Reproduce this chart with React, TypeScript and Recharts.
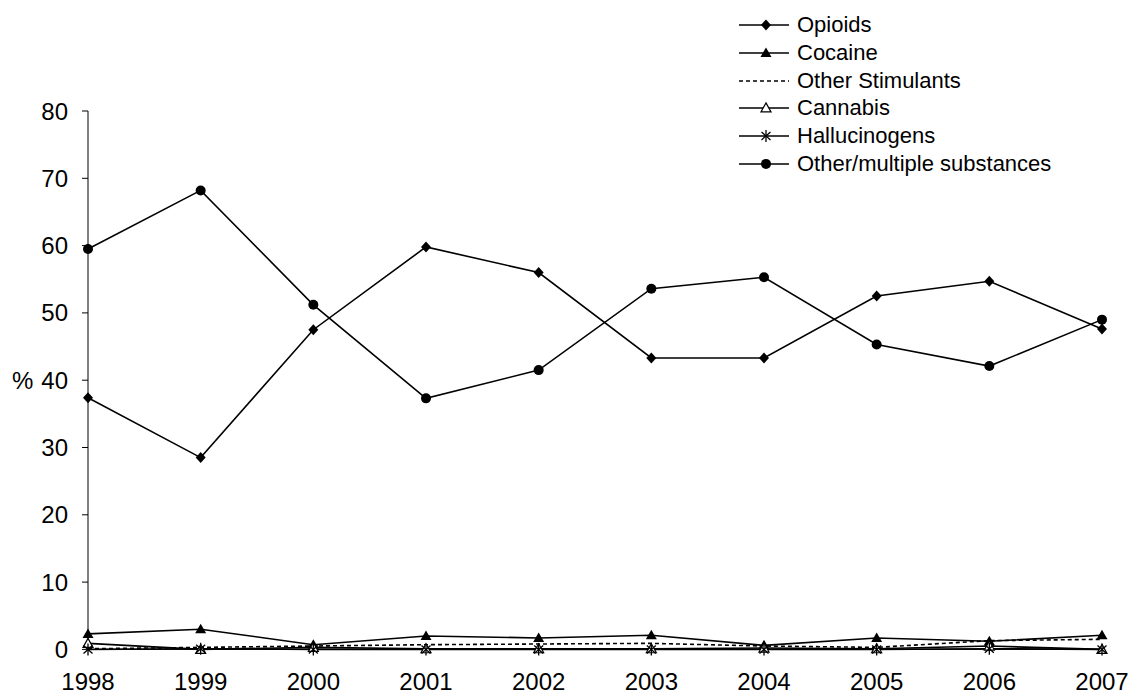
import React from 'react';
import { LineChart, Line, XAxis, YAxis, Legend } from 'recharts';

const years = ['1998', '1999', '2000', '2001', '2002', '2003', '2004', '2005', '2006', '2007'];
const opioids = [37.4, 28.5, 47.5, 59.8, 56.0, 43.3, 43.3, 52.5, 54.7, 47.6];
const cocaine = [2.3, 3.0, 0.7, 2.0, 1.7, 2.1, 0.6, 1.7, 1.2, 2.1];
const otherStimulants = [0.1, 0.3, 0.5, 0.7, 0.8, 0.9, 0.5, 0.3, 1.3, 1.5];
const cannabis = [0.9, 0.0, 0.3, 0.1, 0.1, 0.1, 0.2, 0.1, 0.5, 0.0];
const hallucinogens = [0.0, 0.1, 0.0, 0.0, 0.0, 0.0, 0.0, 0.0, 0.1, 0.0];
const otherMultiple = [59.5, 68.2, 51.2, 37.3, 41.5, 53.6, 55.3, 45.3, 42.1, 49.0];
const yTicks = [0, 10, 20, 30, 40, 50, 60, 70, 80];

const data = years.map((year, i) => ({
  year,
  opioids: opioids[i],
  cocaine: cocaine[i],
  otherStimulants: otherStimulants[i],
  cannabis: cannabis[i],
  hallucinogens: hallucinogens[i],
  otherMultiple: otherMultiple[i],
}));

type Shape = 'diamond' | 'triangle' | 'openTriangle' | 'asterisk' | 'circle' | 'none';

const series: { key: string; name: string; shape: Shape; dashed?: boolean }[] = [
  { key: 'opioids', name: 'Opioids', shape: 'diamond' },
  { key: 'cocaine', name: 'Cocaine', shape: 'triangle' },
  { key: 'otherStimulants', name: 'Other Stimulants', shape: 'none', dashed: true },
  { key: 'cannabis', name: 'Cannabis', shape: 'openTriangle' },
  { key: 'hallucinogens', name: 'Hallucinogens', shape: 'asterisk' },
  { key: 'otherMultiple', name: 'Other/multiple substances', shape: 'circle' },
];

const FONT = '"Liberation Sans", Arial, sans-serif';

function marker(shape: Shape, cx: number, cy: number, key?: any) {
  switch (shape) {
    case 'diamond':
      return <path key={key} d={`M${cx},${cy - 5.5}L${cx + 5},${cy}L${cx},${cy + 5.5}L${cx - 5},${cy}Z`} fill="#000" />;
    case 'triangle':
      return <path key={key} d={`M${cx},${cy - 5.5}L${cx + 5.5},${cy + 4}L${cx - 5.5},${cy + 4}Z`} fill="#000" />;
    case 'openTriangle':
      return <path key={key} d={`M${cx},${cy - 5}L${cx + 5},${cy + 4}L${cx - 5},${cy + 4}Z`} fill="#fff" stroke="#000" strokeWidth={1.2} />;
    case 'asterisk':
      return (
        <g key={key} stroke="#000" strokeWidth={1.3}>
          <line x1={cx} y1={cy - 6} x2={cx} y2={cy + 6} />
          <line x1={cx - 4.5} y1={cy - 4} x2={cx + 4.5} y2={cy + 4} />
          <line x1={cx - 4.5} y1={cy + 4} x2={cx + 4.5} y2={cy - 4} />
        </g>
      );
    case 'circle':
      return <circle key={key} cx={cx} cy={cy} r={5} fill="#000" />;
    default:
      return <g key={key} />;
  }
}

const makeDot = (shape: Shape) => (props: any) => {
  const { cx, cy, index } = props;
  if (cx == null || cy == null) return <g key={`d-${index}`} />;
  return marker(shape, cx, cy, `d-${index}`);
};

const renderLegend = () => (
  <div style={{ fontFamily: FONT, fontSize: 22, color: '#000' }}>
    {series.map((s) => (
      <div key={s.key} style={{ display: 'flex', alignItems: 'center', height: 27.8, lineHeight: '27.8px' }}>
        <svg width={50} height={27.8} style={{ display: 'block' }}>
          <line x1={0} y1={13.9} x2={50} y2={13.9} stroke="#000" strokeWidth={1.5} strokeDasharray={s.dashed ? '4 3' : undefined} />
          {marker(s.shape, 27, 13.9)}
        </svg>
        <span style={{ marginLeft: 8, whiteSpace: 'nowrap' }}>{s.name}</span>
      </div>
    ))}
  </div>
);

export default function App() {
  return (
    <div style={{ width: 1131, height: 695, background: '#fff' }}>
      <style>{'body{margin:0}'}</style>
      <LineChart width={1131} height={695} data={data} margin={{ top: 111, right: 29, left: 0, bottom: 0 }}>
        <XAxis
          dataKey="year"
          height={45.6}
          stroke="#000"
          tickLine={false}
          tickMargin={18}
          tick={{ fill: '#000', fontSize: 24, fontFamily: FONT }}
          interval={0}
        />
        <YAxis
          width={88}
          domain={[0, 80]}
          ticks={yTicks}
          stroke="#000"
          tickSize={6}
          tickMargin={14}
          tick={{ fill: '#000', fontSize: 24, fontFamily: FONT }}
          label={{ value: '%', position: 'insideLeft', offset: 12, fill: '#000', fontSize: 24, fontFamily: FONT }}
        />
        <Legend
          layout="horizontal"
          verticalAlign="middle"
          align="center"
          content={renderLegend}
          wrapperStyle={{ left: 739, top: 11, width: 380, height: 170 }}
        />
        {series.map((s) => (
          <Line
            key={s.key}
            type="linear"
            dataKey={s.key}
            name={s.name}
            stroke="#000"
            strokeWidth={1.6}
            strokeDasharray={s.dashed ? '4 3' : undefined}
            dot={s.shape === 'none' ? false : makeDot(s.shape)}
            activeDot={false}
            isAnimationActive={false}
          />
        ))}
      </LineChart>
    </div>
  );
}
